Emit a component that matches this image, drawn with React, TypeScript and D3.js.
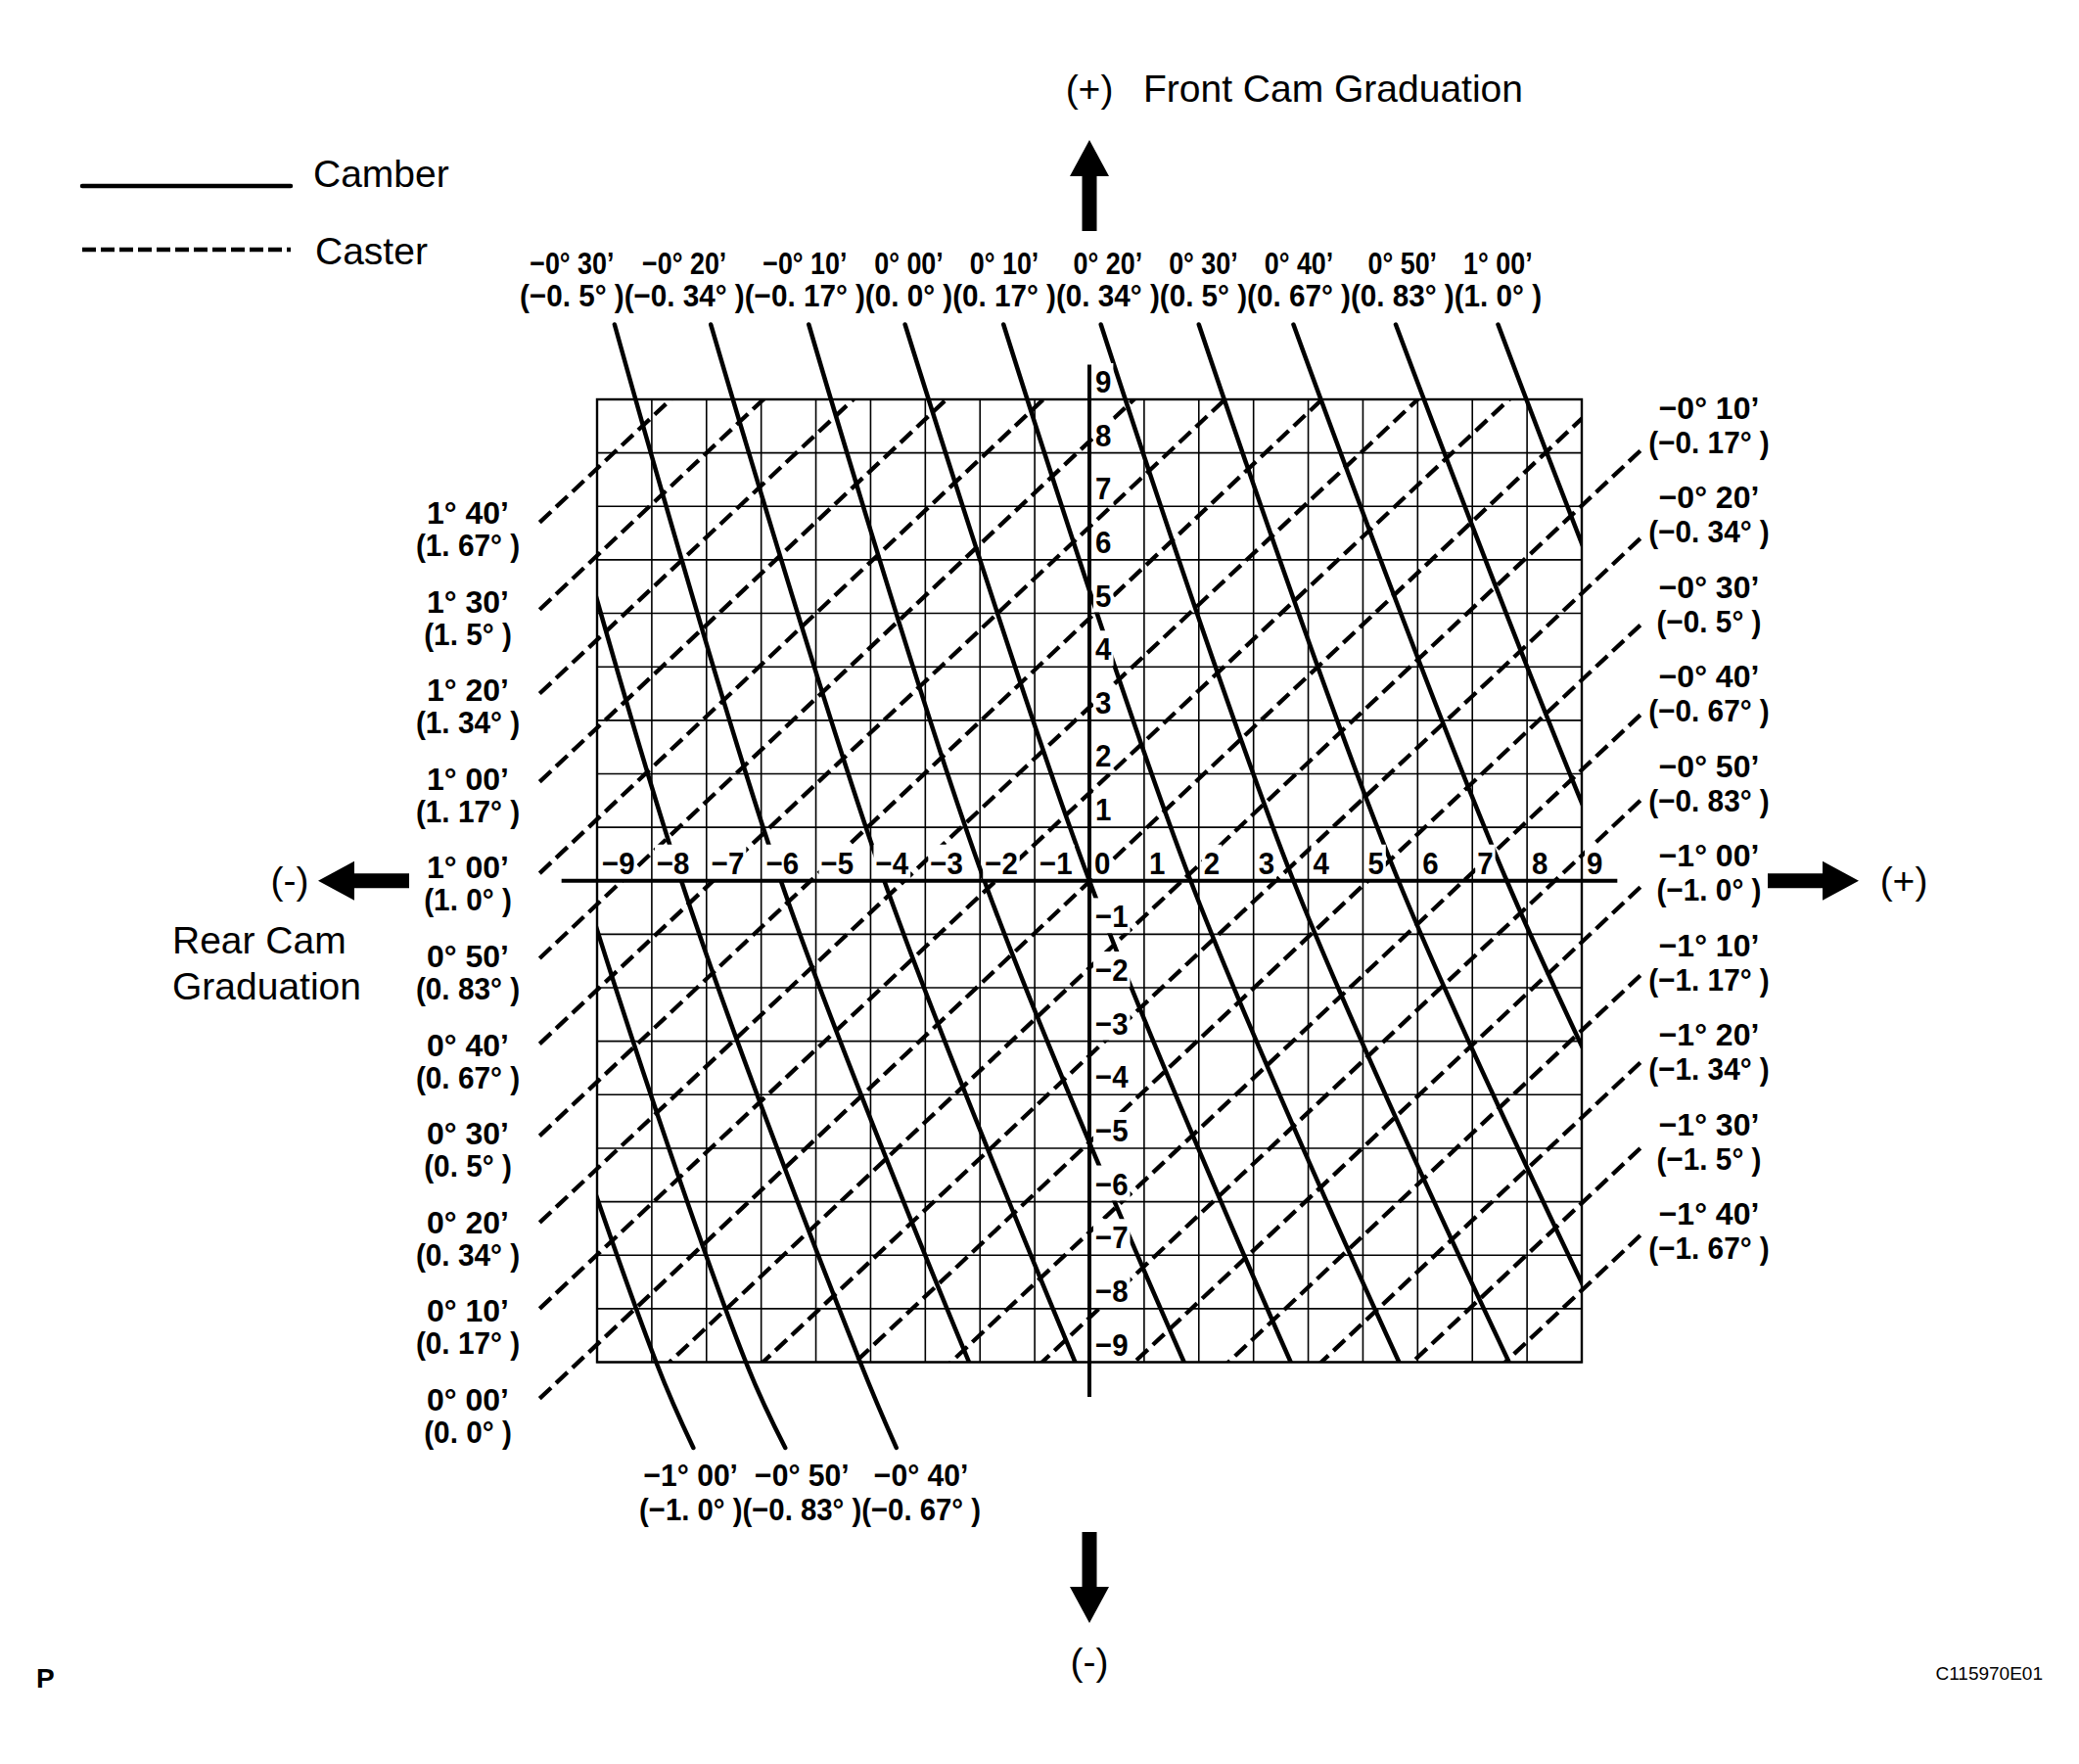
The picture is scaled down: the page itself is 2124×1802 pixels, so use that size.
import React, { useRef, useEffect } from 'react';
import * as d3 from 'd3';

// cam graduations, same on both axes
const graduations = d3.range(-9, 10);

// camber lines (solid)
const camberMinutes = ['−1° 00’', '−0° 50’', '−0° 40’', '−0° 30’', '−0° 20’', '−0° 10’', '0° 00’', '0° 10’', '0° 20’', '0° 30’', '0° 40’', '0° 50’', '1° 00’'];
const camberDegrees = ['(−1. 0° )', '(−0. 83° )', '(−0. 67° )', '(−0. 5° )', '(−0. 34° )', '(−0. 17° )', '(0. 0° )', '(0. 17° )', '(0. 34° )', '(0. 5° )', '(0. 67° )', '(0. 83° )', '(1. 0° )'];
// front cam graduations where the camber lines were read
const camberFront = [10.4, 0, -9, -10.6];
// rear cam graduation of each camber line at those front cam graduations
const camberRearTop = [-13.7, -12.1, -10.4, -8.68, -6.92, -5.13, -3.37, -1.57, 0.21, 2.0, 3.73, 5.6, 7.47];
const camberRearZero = [-10.9, -9.28, -7.46, -5.64, -3.75, -1.92, 0, 1.85, 3.73, 5.65, 7.63, 9.6, 11.5];
const camberRearLow = [-7.92, -6.28, -4.19, -2.2, -0.26, 1.73, 3.68, 5.66, 7.67, 9.7, 11.8, 13.8, 15.8];
const camberRearEnd = [-7.24, -5.56, -3.53, null, null, null, null, null, null, null, null, null, null];

// caster lines (dashed)
const casterMinutes = ['1° 40’', '1° 30’', '1° 20’', '1° 00’', '1° 00’', '0° 50’', '0° 40’', '0° 30’', '0° 20’', '0° 10’', '0° 00’',
  '−0° 10’', '−0° 20’', '−0° 30’', '−0° 40’', '−0° 50’', '−1° 00’', '−1° 10’', '−1° 20’', '−1° 30’', '−1° 40’'];
const casterDegrees = ['(1. 67° )', '(1. 5° )', '(1. 34° )', '(1. 17° )', '(1. 0° )', '(0. 83° )', '(0. 67° )', '(0. 5° )', '(0. 34° )', '(0. 17° )', '(0. 0° )',
  '(−0. 17° )', '(−0. 34° )', '(−0. 5° )', '(−0. 67° )', '(−0. 83° )', '(−1. 0° )', '(−1. 17° )', '(−1. 34° )', '(−1. 5° )', '(−1. 67° )'];
// rear cam graduation at the two ends of every caster line
const casterRear = [-10.05, 10.07];
// front cam graduation at those ends
const casterFrontLeft = [6.7, 5.07, 3.5, 1.85, 0.14, -1.45, -3.05, -4.77, -6.39, -8.0, -9.68,
  -11.28, -12.92, -14.54, -16.22, -17.82, -19.44, -21.09, -22.72, -24.32, -25.95];
const casterFrontRight = [26.0, 24.4, 22.8, 21.2, 19.5, 17.9, 16.3, 14.6, 12.9, 11.3, 9.67,
  8.04, 6.4, 4.78, 3.1, 1.5, -0.12, -1.77, -3.4, -5.0, -6.63];

const W = 2124;
const H = 1802;
const labelFont = "'Liberation Sans', Arial, sans-serif";
const textFont = "'Liberation Sans', Arial, sans-serif";

const App = () => {
    const ref = useRef<SVGSVGElement>(null);

    useEffect(() => {
        const svg = d3.select(ref.current);
        svg.selectAll('*').remove();

        const x = d3.scaleLinear().domain([-9, 9]).range([610, 1616]);
        const y = d3.scaleLinear().domain([-9, 9]).range([1391.5, 408]);
        const gx0 = x(-9), gx1 = x(9), gy0 = y(9), gy1 = y(-9);

        svg.append('rect').attr('width', W).attr('height', H).attr('fill', '#fff');

        // clip regions: grid plus the side where a line carries its label
        const defs = svg.append('defs');
        const addClip = (id: string, x0: number, y0: number, x1: number, y1: number) =>
            defs.append('clipPath').attr('id', id).append('rect')
                .attr('x', x0).attr('y', y0).attr('width', x1 - x0).attr('height', y1 - y0);
        addClip('clip-up', gx0, 0, gx1, gy1);
        addClip('clip-down', gx0, gy0, gx1, H);
        addClip('clip-left', 0, gy0, gx1, H);
        addClip('clip-right', gx0, 0, W, gy1);

        const curve = d3.line<[number, number]>()
            .x(d => x(d[0]))
            .y(d => y(d[1]))
            .curve(d3.curveCatmullRom.alpha(0.5));
        const straight = d3.line<[number, number]>().x(d => x(d[0])).y(d => y(d[1]));

        const linesG = svg.append('g').attr('fill', 'none').attr('stroke', '#000');

        // camber lines
        camberMinutes.forEach((_, i) => {
            const rears = [camberRearTop[i], camberRearZero[i], camberRearLow[i], camberRearEnd[i]];
            const pts = camberFront
                .map((f, j) => [rears[j], f] as [number | null, number])
                .filter(p => p[0] != null) as [number, number][];
            const down = camberRearEnd[i] != null;
            linesG.append('path')
                .attr('d', curve(pts))
                .attr('stroke-width', 4.5)
                .attr('stroke-linecap', 'round')
                .attr('clip-path', `url(#${down ? 'clip-down' : 'clip-up'})`);
        });

        // caster lines
        casterMinutes.forEach((t, i) => {
            const right = t.startsWith('−');
            const pts: [number, number][] = [[casterRear[0], casterFrontLeft[i]], [casterRear[1], casterFrontRight[i]]];
            linesG.append('path')
                .attr('d', straight(right ? pts.slice().reverse() : pts))
                .attr('stroke-width', 4.3)
                .attr('stroke-dasharray', '16 7')
                .attr('clip-path', `url(#${right ? 'clip-right' : 'clip-left'})`);
        });

        // white boxes behind tick labels (filled later)
        const boxG = svg.append('g').attr('fill', '#fff');

        // grid
        const gridG = svg.append('g').attr('stroke', '#000');
        graduations.forEach(n => {
            gridG.append('line').attr('x1', x(n)).attr('x2', x(n)).attr('y1', gy0).attr('y2', gy1).attr('stroke-width', 1.6);
            gridG.append('line').attr('x1', gx0).attr('x2', gx1).attr('y1', y(n)).attr('y2', y(n)).attr('stroke-width', 1.6);
        });
        gridG.append('rect').attr('x', gx0).attr('y', gy0).attr('width', gx1 - gx0).attr('height', gy1 - gy0)
            .attr('fill', 'none').attr('stroke-width', 2.4);

        // axes
        const reach = 9.65;
        svg.append('line').attr('x1', x(-reach)).attr('x2', x(reach)).attr('y1', y(0)).attr('y2', y(0))
            .attr('stroke', '#000').attr('stroke-width', 4);
        svg.append('line').attr('x1', x(0)).attr('x2', x(0)).attr('y1', y(reach)).attr('y2', y(-reach))
            .attr('stroke', '#000').attr('stroke-width', 4);

        // squeeze a text horizontally by a factor of its natural length
        const squeeze = (node: SVGTextElement, factor: number) => {
            const w = node.getComputedTextLength();
            d3.select(node).attr('textLength', w * factor).attr('lengthAdjust', 'spacingAndGlyphs');
        };

        // tick labels
        const fmt = (n: number) => (n < 0 ? `−${-n}` : `${n}`);
        const tickG = svg.append('g')
            .style('font-family', labelFont).style('font-weight', 'bold').style('font-size', '32px');
        graduations.forEach(n => {
            tickG.append('text').attr('x', x(n) + 5).attr('y', y(0) - 7).text(fmt(n));
            if (n !== 0) tickG.append('text').attr('x', x(0) + 6).attr('y', y(n) - 7).text(fmt(n));
        });
        tickG.selectAll<SVGTextElement, unknown>('text').each(function () {
            squeeze(this, 0.92);
            const b = this.getBBox();
            boxG.append('rect').attr('x', b.x - 2).attr('y', b.y - 1).attr('width', b.width + 4).attr('height', b.height);
        });

        // degree labels
        const degG = svg.append('g')
            .style('font-family', labelFont).style('font-weight', 'bold').style('font-size', '32px');

        const label = (tx: number, ty: number, s: string, factor: number) => {
            const t = degG.append('text').attr('x', tx).attr('y', ty).attr('text-anchor', 'middle').text(s);
            squeeze(t.node() as SVGTextElement, factor);
        };

        const packedRow = (items: string[], x0: number, x1: number, base: number) => {
            const t = degG.append('text').attr('x', x0).attr('y', base)
                .attr('textLength', x1 - x0).attr('lengthAdjust', 'spacingAndGlyphs')
                .style('white-space', 'pre').text(items.join(''));
            const node = t.node() as SVGTextElement;
            const centers: number[] = [];
            let k = 0;
            items.forEach(s => {
                const a = node.getStartPositionOfChar(k).x;
                const b = node.getEndPositionOfChar(k + s.length - 1).x;
                centers.push((a + b) / 2);
                k += s.length;
            });
            return centers;
        };

        const topIdx = camberMinutes.map((_, i) => i).filter(i => camberRearEnd[i] == null);
        const botIdx = camberMinutes.map((_, i) => i).filter(i => camberRearEnd[i] != null);
        const topCenters = packedRow(topIdx.map(i => camberDegrees[i]), 531, 1575, 313);
        topIdx.forEach((i, k) => label(topCenters[k], 280, camberMinutes[i], 0.84));
        const botCenters = packedRow(botIdx.map(i => camberDegrees[i]), 653, 1002, 1553);
        botIdx.forEach((i, k) => label(botCenters[k], 1518, camberMinutes[i], 0.94));

        let li = 0, ri = 0;
        casterMinutes.forEach((t, i) => {
            const right = t.startsWith('−');
            const cx = right ? 1746 : 478;
            const b1 = right ? 427.5 + ri * 91.5 : 535 + li * 90.6;
            const b2 = b1 + (right ? 35 : 33);
            label(cx, b1, t, 1.0);
            label(cx, b2, casterDegrees[i], 0.93);
            if (right) ri++; else li++;
        });

        // arrows
        const arrow = (tipX: number, tipY: number, dx: number, dy: number) => {
            const head = 37, headHalf = 20, shaft = 56, shaftHalf = 7.5;
            const px = -dy, py = dx;
            const bx = tipX - dx * head, by = tipY - dy * head;
            const tx = bx - dx * shaft, ty = by - dy * shaft;
            const pts = [
                [tipX, tipY],
                [bx + px * headHalf, by + py * headHalf],
                [bx + px * shaftHalf, by + py * shaftHalf],
                [tx + px * shaftHalf, ty + py * shaftHalf],
                [tx - px * shaftHalf, ty - py * shaftHalf],
                [bx - px * shaftHalf, by - py * shaftHalf],
                [bx - px * headHalf, by - py * headHalf],
            ];
            svg.append('polygon').attr('points', pts.map(p => p.join(',')).join(' ')).attr('fill', '#000');
        };
        arrow(x(0), 143, 0, -1);
        arrow(x(0), 1658, 0, 1);
        arrow(325, y(0), -1, 0);
        arrow(1899, y(0), 1, 0);

        // titles and legend
        const big = svg.append('g').style('font-family', textFont).style('font-size', '39px');
        big.append('text').attr('x', x(0)).attr('y', 104).attr('text-anchor', 'middle').text('(+)');
        big.append('text').attr('x', 1168).attr('y', 104).text('Front Cam Graduation');
        big.append('text').attr('x', 320).attr('y', 191).text('Camber');
        big.append('text').attr('x', 322).attr('y', 270).text('Caster');
        big.append('text').attr('x', 296).attr('y', 913).attr('text-anchor', 'middle').text('(-)');
        big.append('text').attr('x', 176).attr('y', 974).text('Rear Cam');
        big.append('text').attr('x', 176).attr('y', 1021).text('Graduation');
        big.append('text').attr('x', 1945).attr('y', 913).attr('text-anchor', 'middle').text('(+)');
        big.append('text').attr('x', x(0)).attr('y', 1711).attr('text-anchor', 'middle').text('(-)');

        svg.append('line').attr('x1', 84).attr('x2', 297).attr('y1', 190).attr('y2', 190)
            .attr('stroke', '#000').attr('stroke-width', 4.5).attr('stroke-linecap', 'round');
        svg.append('line').attr('x1', 84).attr('x2', 297).attr('y1', 255).attr('y2', 255)
            .attr('stroke', '#000').attr('stroke-width', 4.5).attr('stroke-dasharray', '14 5');

        svg.append('text').attr('x', 37).attr('y', 1724)
            .style('font-family', textFont).style('font-weight', 'bold').style('font-size', '28px').text('P');
        svg.append('text').attr('x', 2087).attr('y', 1716).attr('text-anchor', 'end')
            .style('font-family', textFont).style('font-size', '19px').text('C115970E01');
    }, []);

    return (
        <svg ref={ref} width={W} height={H} style={{ position: 'absolute', left: 0, top: 0, display: 'block' }} />
    );
};

export default App;
